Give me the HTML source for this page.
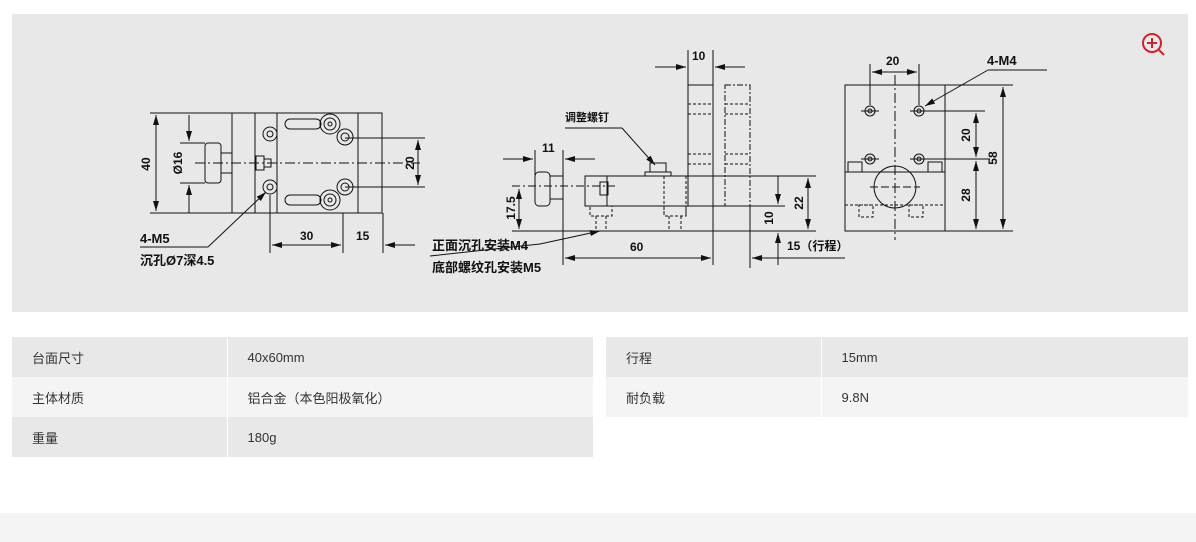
<!DOCTYPE html>
<html><head><meta charset="utf-8"><style>
body{margin:0;width:1196px;height:542px;background:#fff;position:relative;overflow:hidden;font-family:"Liberation Sans","Noto Sans CJK SC",sans-serif;}
#panel{position:absolute;left:12px;top:14px;width:1176px;height:298px;background:#e8e8e8;}
svg{position:absolute;left:0;top:0;}
table{position:absolute;border-collapse:collapse;font-size:13px;color:#333;}
td{height:40px;padding:0 0 0 20px;box-sizing:border-box;}
tr.a td{background:#e8e8e8}tr.b td{background:#f5f4f4}
td.k{border-right:1px solid #fff;}
#foot{position:absolute;left:0;top:513px;width:1196px;height:29px;background:#f4f4f4;}
</style></head><body>
<div id="panel"></div>
<svg width="1196" height="320" viewBox="0 0 1196 320" font-family="Liberation Sans, Noto Sans CJK SC, sans-serif" font-weight="bold" font-size="12" fill="none" stroke="#111" stroke-width="1">
<defs><marker id="ar" markerWidth="10" markerHeight="6" refX="10" refY="3" orient="auto-start-reverse" markerUnits="userSpaceOnUse"><path d="M0,0L10,3L0,6z" fill="#111" stroke="none"/></marker></defs>
<!-- left view -->
<rect x="232" y="113" width="150" height="100"/>
<line x1="255" y1="113" x2="255" y2="213"/><line x1="277" y1="113" x2="277" y2="213"/><line x1="358" y1="113" x2="358" y2="213"/>
<line x1="150" y1="113" x2="232" y2="113"/><line x1="150" y1="213" x2="232" y2="213"/>
<line x1="156" y1="115" x2="156" y2="211" marker-start="url(#ar)" marker-end="url(#ar)"/>
<line x1="180" y1="143" x2="205" y2="143"/><line x1="180" y1="183" x2="205" y2="183"/>
<line x1="189" y1="115" x2="189" y2="141" marker-end="url(#ar)"/><line x1="189" y1="213" x2="189" y2="185" marker-end="url(#ar)"/>
<rect x="205" y="143" width="16" height="40" rx="3"/><rect x="221" y="153" width="11" height="20"/>
<rect x="256" y="156" width="8" height="14"/><rect x="264" y="159" width="7" height="8"/>
<line x1="195" y1="163" x2="420" y2="163" stroke-dasharray="10,3,2,3"/>
<g><circle cx="270" cy="134" r="7"/><circle cx="270" cy="134" r="3"/><circle cx="270" cy="187" r="7"/><circle cx="270" cy="187" r="3"/>
<circle cx="330" cy="124" r="10"/><circle cx="330" cy="124" r="6"/><circle cx="330" cy="124" r="2"/>
<circle cx="330" cy="200" r="10"/><circle cx="330" cy="200" r="6"/><circle cx="330" cy="200" r="2"/>
<circle cx="345" cy="137" r="8"/><circle cx="345" cy="137" r="4"/><circle cx="345" cy="187" r="8"/><circle cx="345" cy="187" r="4"/>
<rect x="285" y="119" width="36" height="10" rx="5"/><rect x="285" y="195" width="36" height="10" rx="5"/></g>
<line x1="345" y1="138" x2="425" y2="138"/><line x1="345" y1="187" x2="425" y2="187"/>
<line x1="418" y1="140" x2="418" y2="185" marker-start="url(#ar)" marker-end="url(#ar)"/>
<line x1="270" y1="195" x2="270" y2="253"/><line x1="343" y1="213" x2="343" y2="253"/><line x1="383" y1="213" x2="383" y2="253"/>
<line x1="272" y1="245" x2="341" y2="245" marker-start="url(#ar)" marker-end="url(#ar)"/>
<line x1="415" y1="245" x2="385" y2="245" marker-end="url(#ar)"/>
<line x1="140" y1="247" x2="208" y2="247"/><line x1="208" y1="247" x2="266" y2="192" marker-end="url(#ar)"/>
<g fill="#111" stroke="none"><text x="300" y="240">30</text><text x="356" y="240">15</text>
<text x="150" y="164" transform="rotate(-90 150 164)" text-anchor="middle">40</text>
<text x="182" y="163" transform="rotate(-90 182 163)" text-anchor="middle">Ø16</text>
<text x="414" y="163" transform="rotate(-90 414 163)" text-anchor="middle">20</text>
<text x="140" y="243" font-size="13">4-M5</text><text x="140" y="265" font-size="13">沉孔Ø7深4.5</text></g>
<!-- middle view -->
<line x1="512" y1="231" x2="816" y2="231"/><line x1="607" y1="176" x2="816" y2="176"/>
<line x1="585" y1="206" x2="785" y2="206"/><line x1="607" y1="176" x2="607" y2="206"/>
<rect x="585" y="176" width="22" height="30"/><rect x="600" y="182" width="8" height="13"/>
<rect x="535" y="172" width="15" height="34" rx="4"/><line x1="550" y1="176" x2="563" y2="176"/><line x1="550" y1="199" x2="563" y2="199"/>
<line x1="563" y1="150" x2="563" y2="265"/><line x1="535" y1="150" x2="535" y2="175"/>
<line x1="512" y1="186" x2="615" y2="186" stroke-dasharray="8,3,2,3"/>
<rect x="688" y="85" width="25" height="121"/><line x1="713" y1="85" x2="713" y2="265"/><line x1="688" y1="50" x2="688" y2="85"/><line x1="713" y1="50" x2="713" y2="85"/>
<rect x="725" y="85" width="25" height="121" stroke-dasharray="6,2,2,2"/><line x1="750" y1="206" x2="750" y2="268"/>
<g stroke-dasharray="3,2"><line x1="688" y1="104" x2="713" y2="104"/><line x1="688" y1="114" x2="713" y2="114"/><line x1="688" y1="154" x2="713" y2="154"/><line x1="688" y1="164" x2="713" y2="164"/>
<line x1="725" y1="104" x2="750" y2="104"/><line x1="725" y1="114" x2="750" y2="114"/><line x1="725" y1="154" x2="750" y2="154"/><line x1="725" y1="164" x2="750" y2="164"/>
<line x1="664" y1="176" x2="664" y2="216"/><line x1="686" y1="176" x2="686" y2="216"/><rect x="664" y="206" width="22" height="10"/><rect x="590" y="206" width="22" height="10"/>
<line x1="596" y1="216" x2="596" y2="231"/><line x1="606" y1="216" x2="606" y2="231"/><line x1="669" y1="216" x2="669" y2="231"/><line x1="681" y1="216" x2="681" y2="231"/></g>
<rect x="645" y="172" width="26" height="4"/><rect x="650" y="163" width="16" height="9"/>
<line x1="655" y1="67" x2="686" y2="67" marker-end="url(#ar)"/><line x1="745" y1="67" x2="715" y2="67" marker-end="url(#ar)"/>
<line x1="503" y1="159" x2="533" y2="159" marker-end="url(#ar)"/><line x1="595" y1="159" x2="565" y2="159" marker-end="url(#ar)"/>
<line x1="519" y1="189" x2="519" y2="229" marker-start="url(#ar)" marker-end="url(#ar)"/>
<line x1="808" y1="178" x2="808" y2="229" marker-start="url(#ar)" marker-end="url(#ar)"/>
<line x1="778" y1="176" x2="778" y2="204" marker-end="url(#ar)"/><line x1="778" y1="265" x2="778" y2="233" marker-end="url(#ar)"/>
<line x1="565" y1="258" x2="711" y2="258" marker-start="url(#ar)" marker-end="url(#ar)"/>
<line x1="780" y1="258" x2="752" y2="258" marker-end="url(#ar)"/><line x1="780" y1="258" x2="845" y2="258"/>
<line x1="565" y1="128" x2="622" y2="128"/><line x1="622" y1="128" x2="655" y2="165" marker-end="url(#ar)"/>
<line x1="430" y1="256" x2="540" y2="244"/><line x1="540" y1="244" x2="600" y2="231" marker-end="url(#ar)"/>
<g fill="#111" stroke="none"><text x="692" y="60">10</text><text x="542" y="152">11</text><text x="630" y="251">60</text>
<text x="515" y="208" transform="rotate(-90 515 208)" text-anchor="middle">17.5</text>
<text x="803" y="203" transform="rotate(-90 803 203)" text-anchor="middle">22</text>
<text x="773" y="218" transform="rotate(-90 773 218)" text-anchor="middle">10</text>
<text x="787" y="250">15（行程）</text>
<text x="565" y="121" font-size="11">调整螺钉</text>
<text x="432" y="250" font-size="13">正面沉孔安装M4</text><text x="432" y="272" font-size="13">底部螺纹孔安装M5</text></g>
<!-- right view -->
<rect x="845" y="85" width="100" height="146"/><line x1="845" y1="172" x2="945" y2="172"/>
<line x1="845" y1="205" x2="945" y2="205" stroke-dasharray="3,2"/>
<line x1="895" y1="75" x2="895" y2="240" stroke-dasharray="10,3,2,3"/>
<circle cx="895" cy="187" r="21"/><line x1="870" y1="187" x2="920" y2="187" stroke-dasharray="8,3"/>
<g><circle cx="870" cy="111" r="5"/><circle cx="870" cy="111" r="2"/><circle cx="919" cy="111" r="5"/><circle cx="919" cy="111" r="2"/>
<circle cx="870" cy="159" r="5"/><circle cx="870" cy="159" r="2"/><circle cx="919" cy="159" r="5"/><circle cx="919" cy="159" r="2"/>
<line x1="861" y1="111" x2="879" y2="111"/><line x1="910" y1="111" x2="928" y2="111"/><line x1="861" y1="159" x2="879" y2="159"/><line x1="910" y1="159" x2="928" y2="159"/>
<rect x="848" y="162" width="14" height="10"/><rect x="928" y="162" width="14" height="10"/>
<rect x="859" y="205" width="14" height="12" stroke-dasharray="3,2"/><rect x="909" y="205" width="14" height="12" stroke-dasharray="3,2"/></g>
<line x1="870" y1="64" x2="870" y2="105"/><line x1="919" y1="64" x2="919" y2="105"/>
<line x1="872" y1="72" x2="917" y2="72" marker-start="url(#ar)" marker-end="url(#ar)"/>
<line x1="1047" y1="70" x2="988" y2="70"/><line x1="988" y1="70" x2="925" y2="106" marker-end="url(#ar)"/>
<line x1="945" y1="85" x2="1013" y2="85"/><line x1="945" y1="231" x2="1013" y2="231"/>
<line x1="925" y1="111" x2="985" y2="111"/><line x1="925" y1="159" x2="990" y2="159"/>
<line x1="976" y1="113" x2="976" y2="157" marker-start="url(#ar)" marker-end="url(#ar)"/>
<line x1="976" y1="161" x2="976" y2="229" marker-start="url(#ar)" marker-end="url(#ar)"/>
<line x1="1003" y1="87" x2="1003" y2="229" marker-start="url(#ar)" marker-end="url(#ar)"/>
<g fill="#111" stroke="none"><text x="886" y="65">20</text><text x="987" y="65" font-size="13">4-M4</text>
<text x="970" y="135" transform="rotate(-90 970 135)" text-anchor="middle">20</text>
<text x="970" y="195" transform="rotate(-90 970 195)" text-anchor="middle">28</text>
<text x="997" y="158" transform="rotate(-90 997 158)" text-anchor="middle">58</text></g>
<!-- zoom icon -->
<circle cx="1152" cy="43" r="9" stroke="#d0242a" stroke-width="2"/><line x1="1159" y1="50" x2="1164" y2="55" stroke="#d0242a" stroke-width="2"/>
<line x1="1147" y1="43" x2="1157" y2="43" stroke="#d0242a" stroke-width="2"/><line x1="1152" y1="38" x2="1152" y2="48" stroke="#d0242a" stroke-width="2"/>
</svg>
<table style="left:12px;top:337px;width:581px;">
<tr class="a"><td class="k" style="width:215px">台面尺寸</td><td>40x60mm</td></tr>
<tr class="b"><td class="k">主体材质</td><td>铝合金（本色阳极氧化）</td></tr>
<tr class="a"><td class="k">重量</td><td>180g</td></tr>
</table>
<table style="left:606px;top:337px;width:582px;">
<tr class="a"><td class="k" style="width:215px">行程</td><td>15mm</td></tr>
<tr class="b"><td class="k">耐负载</td><td>9.8N</td></tr>
</table>
<div id="foot"></div>
</body></html>
